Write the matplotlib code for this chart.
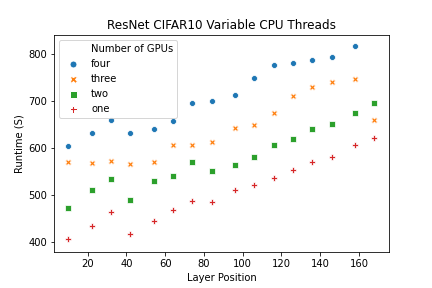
import matplotlib
matplotlib.use("Agg")
import matplotlib.pyplot as plt
from matplotlib.lines import Line2D

x_pos = [10, 22, 32, 42, 54, 64, 74, 84, 96, 106, 116, 126, 136, 146, 158, 168]
four = [605, 632, 660, 633, 640, 658, 697, 700, 714, 750, 778, 781, 788, 793, 818]
three = [570, 569, 573, 567, 570, 607, 606, 612, 643, 650, 675, 710, 730, 740, 748, 660]
two = [473, 511, 534, 490, 530, 541, 570, 551, 565, 580, 606, 620, 641, 652, 674, 695]
one = [406, 435, 463, 418, 444, 469, 488, 486, 511, 521, 537, 553, 570, 580, 607, 622]

series = [("four", four, "#1f77b4", "o"),
          ("three", three, "#ff7f0e", "X"),
          ("two", two, "#2ca02c", "s"),
          ("one", one, "#d62728", "P")]

fig, ax = plt.subplots(figsize=(6, 4), dpi=72)
fig.subplots_adjust(left=0.125, right=0.9, top=0.877, bottom=0.124)
handles = [Line2D([], [], linestyle="none", marker="", label="Number of GPUs")]
for name, vals, color, marker in series:
    ax.scatter(x_pos[:len(vals)], vals, s=36, c=color, marker=marker,
               edgecolors="white", linewidths=0.75, label=name)
    handles.append(Line2D([], [], linestyle="none", marker=marker, color=color,
                          markeredgecolor="white", markersize=7, label=name))

ax.set_title("ResNet CIFAR10 Variable CPU Threads")
ax.set_xlabel("Layer Position")
ax.set_ylabel("Runtime (S)")
ax.set_xlim(2.6, 175.4)
ax.set_ylim(378, 840)
ax.set_xticks([20, 40, 60, 80, 100, 120, 140, 160])
ax.set_yticks([400, 500, 600, 700, 800])
ax.legend(handles=handles, loc="upper left")
fig.savefig("out.png", dpi=72)
